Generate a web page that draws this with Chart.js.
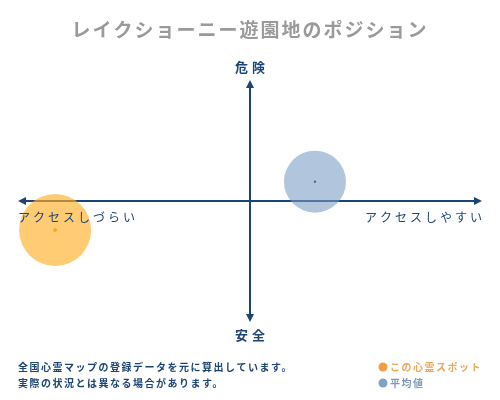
<!DOCTYPE html>
<html>
<head>
<meta charset="utf-8">
<script src="https://cdn.jsdelivr.net/npm/chart.js@4/dist/chart.umd.min.js"></script>
<style>
  html, body { margin: 0; padding: 0; background: #fff; }
  #wrap { width: 500px; height: 400px; }
</style>
</head>
<body>
<div id="wrap"><canvas id="grafico"></canvas></div>
<script>
// datos
const seriesNames = ["この心霊スポット", "平均値"];
const accessValues = [-0.84, 0.28];   // eje x: アクセス
const dangerValues = [-0.24, 0.16];   // eje y: 危険 / 安全
const bubbleSizes = [36, 31];
const axisLabels = { top: "危険", bottom: "安全", left: "アクセスしづらい", right: "アクセスしやすい" };
const titleText = "レイクショーニー遊園地のポジション";
const noteLines = ["全国心霊マップの登録データを元に算出しています。", "実際の状況とは異なる場合があります。"];

const fillColors = ["rgba(255, 175, 40, 0.65)", "rgba(120, 155, 195, 0.58)"];
const dotColors = ["#f0a020", "#222222"];
const legendText = ["#e9a75a", "#7d9ab8"];
const legendDot = ["#f0a040", "#7fa3c6"];
const navy = "#1c4475";
const font = "'Noto Sans CJK JP', sans-serif";

// plugin para ejes, flechas y textos
const decoraciones = {
  id: "decoraciones",
  beforeDatasetsDraw(chart) {
    const ctx = chart.ctx;
    const xs = chart.scales.x, ys = chart.scales.y;
    const x0 = xs.getPixelForValue(0), y0 = ys.getPixelForValue(0);
    const l = xs.getPixelForValue(xs.min), r = xs.getPixelForValue(xs.max);
    const t = ys.getPixelForValue(ys.max), b = ys.getPixelForValue(ys.min);
    ctx.save();
    ctx.strokeStyle = navy;
    ctx.fillStyle = navy;
    ctx.lineWidth = 2;
    ctx.beginPath();
    ctx.moveTo(l + 4, y0); ctx.lineTo(r - 4, y0);
    ctx.moveTo(x0, t + 4); ctx.lineTo(x0, b - 4);
    ctx.stroke();
    const flecha = (px, py, dx, dy) => {
      ctx.beginPath();
      ctx.moveTo(px, py);
      ctx.lineTo(px - dx * 8 - dy * 4, py - dy * 8 - dx * 4);
      ctx.lineTo(px - dx * 8 + dy * 4, py - dy * 8 + dx * 4);
      ctx.closePath();
      ctx.fill();
    };
    flecha(r, y0, 1, 0);
    flecha(l, y0, -1, 0);
    flecha(x0, t, 0, -1);
    flecha(x0, b, 0, 1);
    ctx.restore();
  },
  afterDraw(chart) {
    const ctx = chart.ctx;
    const xs = chart.scales.x, ys = chart.scales.y;
    const x0 = xs.getPixelForValue(0);
    const l = xs.getPixelForValue(xs.min), r = xs.getPixelForValue(xs.max);
    const t = ys.getPixelForValue(ys.max), b = ys.getPixelForValue(ys.min);
    const y0 = ys.getPixelForValue(0);
    ctx.save();
    ctx.textBaseline = "middle";

    // título
    ctx.fillStyle = "#9a9a9a";
    ctx.font = "bold 19px " + font;
    ctx.letterSpacing = "2px";
    ctx.textAlign = "center";
    ctx.fillText(titleText, 250, 30);

    // etiquetas de ejes
    ctx.fillStyle = navy;
    ctx.font = "bold 13px " + font;
    ctx.letterSpacing = "4px";
    ctx.fillText(axisLabels.top, x0 + 2, t - 13);
    ctx.fillText(axisLabels.bottom, x0 + 2, b + 13);
    ctx.font = "12px " + font;
    ctx.letterSpacing = "3px";
    ctx.textAlign = "left";
    ctx.fillText(axisLabels.left, l, y0 + 16);
    ctx.textAlign = "right";
    ctx.fillText(axisLabels.right, r + 3, y0 + 16);

    // nota al pie
    ctx.textAlign = "left";
    ctx.font = "bold 10px " + font;
    ctx.letterSpacing = "1.5px";
    noteLines.forEach((s, i) => ctx.fillText(s, 18, 367 + i * 16));

    // leyenda
    seriesNames.forEach((s, i) => {
      const y = 367 + i * 16;
      ctx.fillStyle = legendDot[i];
      ctx.beginPath();
      ctx.arc(383, y, 4.5, 0, Math.PI * 2);
      ctx.fill();
      ctx.fillStyle = legendText[i];
      ctx.fillText(s, 390, y);
    });
    ctx.restore();
  }
};

const datasets = seriesNames.map((name, i) => ({
  label: name,
  data: [{ x: accessValues[i], y: dangerValues[i], r: bubbleSizes[i] }],
  backgroundColor: fillColors[i],
  borderWidth: 0,
  hoverRadius: 0,
  clip: false
}));
// puntos centrales
seriesNames.forEach((name, i) => {
  datasets.push({
    type: "scatter",
    label: name + "-centro",
    data: [{ x: accessValues[i], y: dangerValues[i] }],
    backgroundColor: dotColors[i],
    borderWidth: 0,
    pointRadius: i === 0 ? 2.5 : 1.2,
    pointStyle: i === 0 ? "rectRot" : "circle"
  });
});

new Chart(document.getElementById("grafico"), {
  type: "bubble",
  data: { datasets: datasets },
  options: {
    responsive: true,
    maintainAspectRatio: false,
    animation: false,
    layout: { autoPadding: false, padding: { left: 18, right: 18, top: 80, bottom: 78 } },
    plugins: { legend: { display: false }, tooltip: { enabled: false }, title: { display: false } },
    scales: {
      x: { min: -1, max: 1, display: false },
      y: { min: -1, max: 1, display: false }
    }
  },
  plugins: [decoraciones]
});
</script>
</body>
</html>
